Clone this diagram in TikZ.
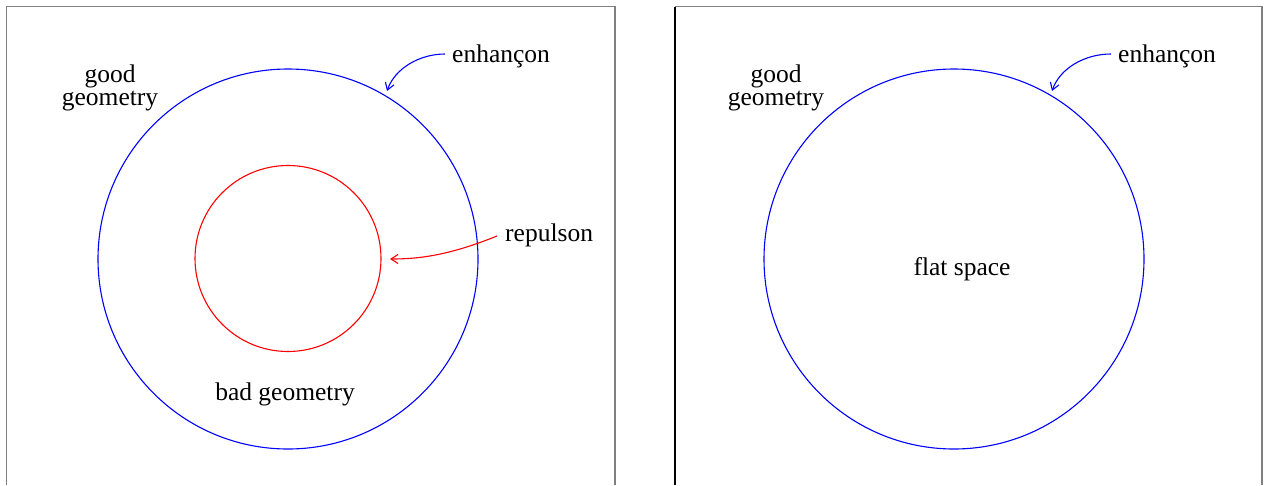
\documentclass[tikz,border=0pt]{standalone}
\usepackage{fontspec}
\setmainfont{Liberation Serif}
\usetikzlibrary{arrows.meta}
\begin{document}
\begin{tikzpicture}[x=1pt,y=-1pt,
  frame/.style={draw=gray,line width=1.8pt},
  lbl/.style={font=\fontsize{25.5}{23}\selectfont,align=center,inner sep=0pt},
  ring/.style={line width=1.1pt},
  pointer/.style={line width=1.1pt,-{Straight Barb[length=7pt,width=9pt]}}]
\useasboundingbox (0,0) rectangle (1269,485);
% frames
\draw[frame] (6.5,485) -- (6.5,6.5) -- (615,6.5) -- (615,485);
\draw[frame] (675,6.5) -- (1262,6.5) -- (1262,485);
\draw[line width=1.6pt,black] (675,485) -- (675,6.5);
% left panel
\node[draw=blue,ring,circle,minimum size=380pt,inner sep=0pt] (outerL) at (288,259) {};
\node[draw=red,ring,circle,minimum size=186pt,inner sep=0pt] (innerL) at (288,258.5) {};
\node[lbl] (goodL) at (110,88) {good\\geometry};
\node[lbl,anchor=west] (enhL) at (452,56) {enhançon};
\node[lbl,anchor=west] (rep) at (505,235) {repulson};
\node[lbl] (bad) at (285,394) {bad geometry};
\coordinate (enhLstart) at (445,54);
\coordinate (enhLend) at (387,91);
\coordinate (repstart) at (497,236);
\coordinate (repend) at (390,259);
\draw[pointer,blue] (enhLstart) .. controls (420,54) and (395,68) .. (enhLend);
\draw[pointer,red] (repstart) .. controls (450,255) and (420,259) .. (repend);
% right panel
\node[draw=blue,ring,circle,minimum size=380pt,inner sep=0pt] (outerR) at (954,259) {};
\node[lbl] (goodR) at (776,88) {good\\geometry};
\node[lbl,anchor=west] (enhR) at (1118,56) {enhançon};
\node[lbl] (flat) at (962,269) {flat space};
\coordinate (enhRstart) at (1111,54);
\coordinate (enhRend) at (1052,91);
\draw[pointer,blue] (enhRstart) .. controls (1085,54) and (1060,68) .. (enhRend);
\end{tikzpicture}
\end{document}
